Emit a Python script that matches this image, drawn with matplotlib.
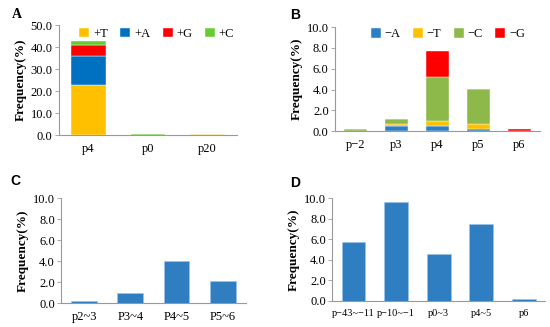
import numpy as np
from matplotlib import pyplot as plt

# panel A: insertions
a_cats = ["p4", "p0", "p20"]
a_labels = ["+T", "+A", "+G", "+C"]
a_vals = {
    "+T": [23.0, 0.0, 0.3],
    "+A": [13.0, 0.0, 0.0],
    "+G": [5.0, 0.0, 0.0],
    "+C": [2.0, 0.4, 0.0],
}
a_colors = ["#FFC000", "#0070C0", "#FF0000", "#66CC33"]

# panel B: deletions
b_cats = ["p\u22122", "p3", "p4", "p5", "p6"]
b_labels = ["\u2212A", "\u2212T", "\u2212C", "\u2212G"]
b_vals = {
    "\u2212A": [0.0, 0.45, 0.45, 0.2, 0.0],
    "\u2212T": [0.0, 0.25, 0.5, 0.5, 0.0],
    "\u2212C": [0.2, 0.5, 4.3, 3.35, 0.0],
    "\u2212G": [0.0, 0.0, 2.45, 0.0, 0.2],
}
b_colors = ["#2E7EC6", "#FFC000", "#8DB84A", "#FF0000"]

# panel C
c_cats = ["p2~3", "P3~4", "P4~5", "P5~6"]
c_vals = [0.25, 0.95, 4.05, 2.15]

# panel D
d_cats = ["p\u221243~\u221211", "p\u221210~\u22121", "p0~3", "p4~5", "p6"]
d_vals = [5.75, 9.6, 4.55, 7.45, 0.2]

BAR_BLUE = "#2E7EC1"

plt.rcParams["font.family"] = ["Liberation Serif", "DejaVu Serif"]

fig = plt.figure(figsize=(5.5, 3.27), dpi=100)


def style_axes(ax, ymax, step, xsize=9):
    for s in ["top", "right"]:
        ax.spines[s].set_visible(False)
    for s in ["left", "bottom"]:
        ax.spines[s].set_color("#999999")
        ax.spines[s].set_linewidth(0.8)
    ax.set_ylim(0, ymax)
    ax.set_yticks(np.arange(0, ymax + step / 2, step))
    ax.set_yticklabels([f"{v:.1f}" for v in np.arange(0, ymax + step / 2, step)])
    ax.tick_params(axis="y", length=3, width=0.6, color="#999999", labelsize=9, pad=1.5)
    ax.tick_params(axis="x", length=0, labelsize=xsize, pad=6)
    ax.set_ylabel("Frequency(%)", fontsize=9.5, fontweight="bold", labelpad=3)


def stacked(ax, cats, labels, vals, colors, width):
    x = np.arange(len(cats))
    bottom = np.zeros(len(cats))
    for lab, col in zip(labels, colors):
        v = np.array(vals[lab])
        ax.bar(x, v, width, bottom=bottom, color=col, label=lab,
               edgecolor="white", linewidth=0.3)
        bottom += v
    ax.set_xticks(x)
    ax.set_xticklabels(cats)
    ax.set_xlim(-0.5, len(cats) - 0.5)


def legend(ax, x, y):
    ax.legend(loc="center", bbox_to_anchor=(x, y), ncol=4, frameon=False,
              fontsize=9, handlelength=0.8, handleheight=0.8,
              handletextpad=0.3, columnspacing=1.0, borderpad=0)


# A
axA = fig.add_axes([0.107, 0.587, 0.324, 0.336])
stacked(axA, a_cats, a_labels, a_vals, a_colors, 0.58)
style_axes(axA, 50, 10)
legend(axA, 0.55, 0.92)

# B
axB = fig.add_axes([0.609, 0.599, 0.373, 0.318])
stacked(axB, b_cats, b_labels, b_vals, b_colors, 0.55)
style_axes(axB, 10, 2)
legend(axB, 0.55, 0.93)

# C
axC = fig.add_axes([0.111, 0.073, 0.336, 0.321])
axC.bar(np.arange(len(c_cats)), c_vals, 0.56, color=BAR_BLUE,
        edgecolor="#9CC3E6", linewidth=0.5)
axC.set_xticks(np.arange(len(c_cats)))
axC.set_xticklabels(c_cats)
axC.set_xlim(-0.5, len(c_cats) - 0.5)
style_axes(axC, 10, 2)

# D
axD = fig.add_axes([0.604, 0.080, 0.387, 0.314])
axD.bar(np.arange(len(d_cats)), d_vals, 0.56, color=BAR_BLUE,
        edgecolor="#9CC3E6", linewidth=0.5)
axD.set_xticks(np.arange(len(d_cats)))
axD.set_xticklabels(d_cats)
axD.set_xlim(-0.5, len(d_cats) - 0.5)
style_axes(axD, 10, 2, xsize=7.5)

# panel letters
fig.text(0.022, 0.955, "A", fontsize=10, fontweight="bold", va="center")
for lab, x, y in [("B", 0.528, 0.955), ("C", 0.018, 0.445), ("D", 0.528, 0.440)]:
    fig.text(x, y, lab, fontsize=10, fontweight="bold", va="center",
             family=["Liberation Sans", "DejaVu Sans"])

fig.savefig("out.png", dpi=100)
